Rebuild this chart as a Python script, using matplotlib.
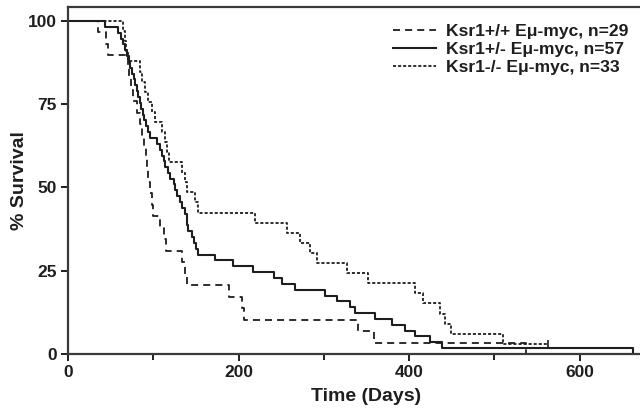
import matplotlib
matplotlib.use('Agg')
import matplotlib.pyplot as plt
from matplotlib.ticker import MultipleLocator

plt.rcParams['font.family'] = ['Liberation Sans', 'DejaVu Sans']
plt.rcParams['font.weight'] = 'bold'

# Ksr1+/+ (n=29)
wt_days = [0, 35, 45, 47, 70, 72, 73.5, 76, 81, 84, 87, 89, 91, 93, 94, 96, 98, 100,
           108, 112, 115, 134, 137, 139, 189, 204, 206, 340, 359, 537]
wt_surv = [100, 96.6, 93.1, 89.7, 86.2, 82.8, 79.3, 75.9, 72.4, 69.0, 65.5, 62.1, 58.6,
           55.2, 51.7, 48.3, 44.8, 41.4, 37.9, 34.5, 31.0, 27.6, 24.1, 20.7, 17.2, 13.8,
           10.3, 6.9, 3.4, 0]

# Ksr1+/- (n=57)
het_days = [0, 43, 59, 62, 65, 67, 69, 71, 73, 75, 77, 79, 81, 82, 84, 86, 88, 89, 91,
            94, 96, 104, 108, 110, 112, 114, 117, 120, 124, 126, 128, 131, 134, 137, 139,
            140, 141, 145, 148, 150, 152, 172, 194, 217, 241, 251, 266, 301, 315, 331,
            337, 360, 380, 395, 407, 425, 439, 663]
het_surv = [100, 98.2, 96.5, 94.7, 93.0, 91.2, 89.5, 87.7, 86.0, 84.2, 82.5, 80.7, 78.9,
            77.2, 75.4, 73.7, 71.9, 70.2, 68.4, 66.7, 64.9, 63.2, 61.4, 59.6, 57.9, 56.1,
            54.4, 52.6, 50.9, 49.1, 47.4, 45.6, 43.9, 42.1, 40.4, 38.6, 36.8, 35.1, 33.3,
            31.6, 29.8, 28.1, 26.3, 24.6, 22.8, 21.1, 19.3, 17.5, 15.8, 14.0, 12.3, 10.5,
            8.8, 7.0, 5.3, 3.5, 1.8, 0]

# Ksr1-/- (n=33)
ko_days = [0, 65, 67, 68, 70, 84, 87, 90, 94, 98, 102, 110, 114, 116, 118, 134, 137, 140,
           149, 152, 219, 257, 272, 284, 292, 327, 352, 407, 416, 436, 442, 449, 510, 563]
ko_surv = [100, 97.0, 93.9, 90.9, 87.9, 84.8, 81.8, 78.8, 75.8, 72.7, 69.7, 66.7, 63.6,
           60.6, 57.6, 54.5, 51.5, 48.5, 45.5, 42.4, 39.4, 36.4, 33.3, 30.3, 27.3, 24.2,
           21.2, 18.2, 15.2, 12.1, 9.1, 6.1, 3.0, 3.0]

labels = ['Ksr1+/+ E\u03bc-myc, n=29', 'Ksr1+/- E\u03bc-myc, n=57', 'Ksr1-/- E\u03bc-myc, n=33']
x_ticks = [0, 200, 400, 600]
y_ticks = [0, 25, 50, 75, 100]

col = '#1e1e1e'
fig = plt.figure(figsize=(6.4, 4.12), dpi=100)
# axes extend slightly past the right edge of the picture (cropped like the original)
ax = fig.add_axes([68/640, 58/412, 597/640, (354-7)/412])

ax.step(wt_days, wt_surv, where='post', color=col, lw=1.3, linestyle=(0, (3.9, 2.8)), label=labels[0])
ax.step(het_days, het_surv, where='post', color=col, lw=1.5, linestyle='-', label=labels[1])
ax.step(ko_days, ko_surv, where='post', color=col, lw=1.3, linestyle=(0, (1.7, 1.1)), label=labels[2])
ax.plot([ko_days[-1]], [ko_surv[-1]], marker='|', color=col, markersize=6, mew=1.2, linestyle='none')

ax.set_xlim(0, 700)
ax.set_ylim(0, 104.2)
ax.set_xticks(x_ticks)
ax.set_yticks(y_ticks)
ax.xaxis.set_minor_locator(MultipleLocator(100))
ax.tick_params(axis='both', which='major', direction='out', length=5, width=1.4, colors=col,
               labelsize=12.5, pad=3)
ax.tick_params(axis='x', which='minor', direction='out', length=4, width=1.4, colors=col)
for lab in ax.get_xticklabels() + ax.get_yticklabels():
    lab.set_fontweight('bold')
for s in ['left', 'bottom', 'top']:
    ax.spines[s].set_linewidth(1.6)
    ax.spines[s].set_color('#3a3a3a')
ax.spines['right'].set_visible(False)

ax.set_xlabel('Time (Days)', fontsize=14, fontweight='bold', color=col, labelpad=6)
ax.set_ylabel('% Survival', fontsize=14, fontweight='bold', color=col, labelpad=0)

leg = ax.legend(loc='upper right', bbox_to_anchor=(571/597, 0.981), frameon=False,
                fontsize=12.6, handlelength=2.45, handletextpad=0.6, labelspacing=0.15,
                borderaxespad=0.2)
for t in leg.get_texts():
    t.set_fontweight('bold')
    t.set_color(col)

fig.savefig('out.png', dpi=100)
